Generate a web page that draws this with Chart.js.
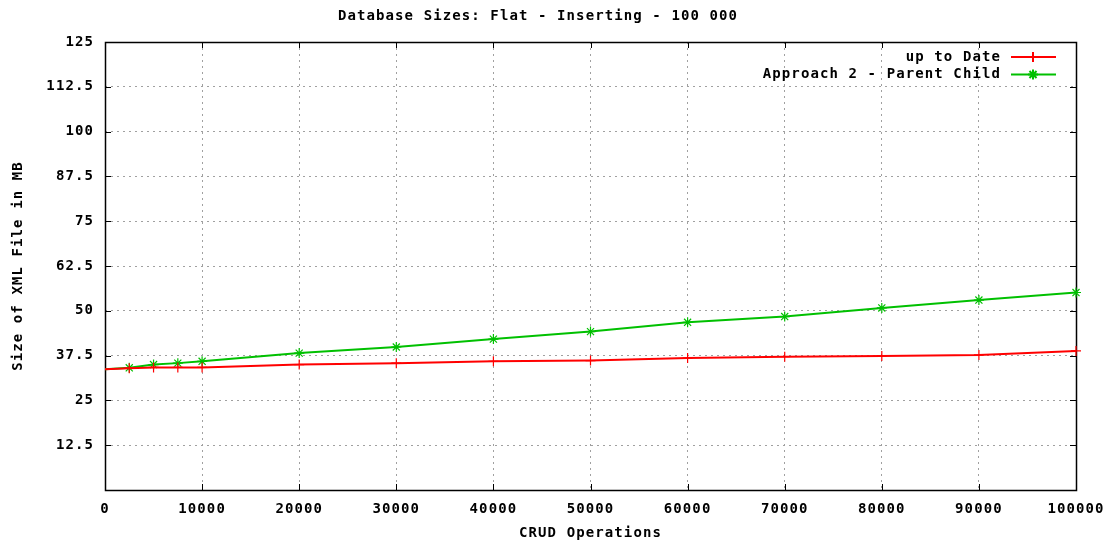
<!DOCTYPE html>
<html><head><meta charset="utf-8">
<script src="https://cdn.jsdelivr.net/npm/chart.js@4/dist/chart.umd.min.js"></script>
<style>html,body{margin:0;padding:0;background:#fff}</style>
</head><body>
<canvas id="c" width="1103" height="545"></canvas>
<script>
const titleText = 'Database Sizes: Flat - Inserting - 100 000';
const xTitle = 'CRUD Operations';
const yTitle = 'Size of XML File in MB';
const seriesNames = ['up to Date', 'Approach 2 - Parent Child'];
const operations = [0, 2500, 5000, 7500, 10000, 20000, 30000, 40000, 50000, 60000, 70000, 80000, 90000, 100000];
const upToDate  = [33.7, 34.0, 34.2, 34.2, 34.2, 35.0, 35.4, 35.9, 36.1, 36.8, 37.2, 37.4, 37.7, 38.8];
const approach2 = [33.7, 34.1, 35.0, 35.4, 35.9, 38.2, 39.9, 42.1, 44.2, 46.8, 48.4, 50.8, 53.0, 55.1];
const xTicks = [0, 10000, 20000, 30000, 40000, 50000, 60000, 70000, 80000, 90000, 100000];
const yTicks = [0, 12.5, 25, 37.5, 50, 62.5, 75, 87.5, 100, 112.5, 125];

const FONT = "'DejaVu Sans Mono', 'Liberation Mono', monospace";
const font = {family: FONT, size: 14, weight: 'bold'};
const SPACING = '1.1px';
const colors = ['#ff0000', '#00c000'];
const styles = ['cross', 'star'];

const spacingPlugin = {
  id: 'spacing',
  beforeUpdate(c) { c.ctx.letterSpacing = SPACING; },
  beforeLayout(c) { c.ctx.letterSpacing = SPACING; },
  beforeDraw(c) { c.ctx.letterSpacing = SPACING; }
};

const framePlugin = {
  id: 'frame',
  beforeDatasetsDraw(c) {
    const {ctx, chartArea: a, scales: {x, y}} = c;
    ctx.save();
    ctx.strokeStyle = '#000';
    ctx.lineWidth = 1;
    ctx.beginPath();
    const t = 6;
    xTicks.forEach(v => {
      if (v === xTicks[0] || v === xTicks[xTicks.length - 1]) return;
      const px = Math.round(x.getPixelForValue(v)) + 0.5;
      ctx.moveTo(px, a.bottom); ctx.lineTo(px, a.bottom - t);
      ctx.moveTo(px, a.top); ctx.lineTo(px, a.top + t);
    });
    yTicks.forEach(v => {
      if (v === yTicks[0] || v === yTicks[yTicks.length - 1]) return;
      const py = Math.round(y.getPixelForValue(v)) + 0.5;
      ctx.moveTo(a.left, py); ctx.lineTo(a.left + t, py);
      ctx.moveTo(a.right, py); ctx.lineTo(a.right - t, py);
    });
    ctx.stroke();
    ctx.lineWidth = 1.5;
    ctx.strokeRect(Math.round(a.left) + 0.5, Math.round(a.top) + 0.5, Math.round(a.right - a.left), Math.round(a.bottom - a.top));
    ctx.restore();
  },
  afterDraw(c) {
    const {ctx} = c;
    ctx.save();
    ctx.letterSpacing = SPACING;
    ctx.font = 'bold 14px ' + FONT;
    ctx.textAlign = 'right';
    ctx.textBaseline = 'middle';
    c.data.datasets.forEach((ds, i) => {
      const yy = 57 + i * 17.5;
      ctx.fillStyle = '#000';
      ctx.fillText(ds.label, 1001, yy);
      ctx.strokeStyle = ds.borderColor;
      ctx.lineWidth = 2;
      ctx.beginPath(); ctx.moveTo(1011, yy); ctx.lineTo(1056, yy); ctx.stroke();
      Chart.helpers.drawPoint(ctx, {pointStyle: ds.pointStyle, radius: 5, borderWidth: 1.2}, 1033, yy);
    });
    ctx.restore();
  }
};

const datasets = [upToDate, approach2].map((vals, i) => ({
  label: seriesNames[i],
  data: operations.map((op, j) => ({x: op, y: vals[j]})),
  borderColor: colors[i],
  backgroundColor: colors[i],
  borderWidth: 2,
  pointStyle: styles[i],
  pointRadius: ctx => (ctx.raw && ctx.raw.x === 0 ? 0 : 5),
  pointBorderWidth: 1.2,
  pointBorderColor: colors[i],
  tension: 0,
  clip: false
}));

new Chart(document.getElementById('c'), {
  type: 'line',
  data: {datasets},
  options: {
    responsive: false,
    animation: false,
    events: [],
    layout: {padding: {top: 0, right: 27, left: 0, bottom: 0}},
    plugins: {
      legend: {display: false},
      tooltip: {enabled: false},
      title: {
        display: true, text: titleText, color: '#000', font,
        padding: {top: 8, bottom: 17.2}
      }
    },
    scales: {
      x: {
        type: 'linear', min: 0, max: 100000,
        afterBuildTicks: s => { s.ticks = xTicks.map(v => ({value: v})); },
        afterFit: s => { s.height = 55; s.paddingLeft = 0; s.paddingRight = 0; },
        ticks: {color: '#000', font, padding: 11, maxRotation: 0, autoSkip: false, callback: v => String(v)},
        grid: {
          drawTicks: false,
          color: ctx => (ctx.tick && (ctx.tick.value === 0 || ctx.tick.value === 100000) ? 'rgba(0,0,0,0)' : '#a0a0a0'),
          lineWidth: 1
        },
        border: {display: false, dash: [2, 4]},
        title: {display: true, text: xTitle, color: '#000', font, padding: {top: 0, bottom: 3}}
      },
      y: {
        type: 'linear', min: 0, max: 125,
        afterBuildTicks: s => { s.ticks = yTicks.map(v => ({value: v})); },
        afterFit: s => { s.width = 105; s.paddingTop = 0; s.paddingBottom = 0; },
        ticks: {color: '#000', font, padding: 11, autoSkip: false, callback: v => (v === 0 ? '' : String(v))},
        grid: {
          drawTicks: false,
          color: ctx => (ctx.tick && (ctx.tick.value === 0 || ctx.tick.value === 125) ? 'rgba(0,0,0,0)' : '#a0a0a0'),
          lineWidth: 1
        },
        border: {display: false, dash: [2, 4]},
        title: {display: true, text: yTitle, color: '#000', font, padding: {top: 10, bottom: 0}}
      }
    }
  },
  plugins: [spacingPlugin, framePlugin]
});
</script>
</body></html>
